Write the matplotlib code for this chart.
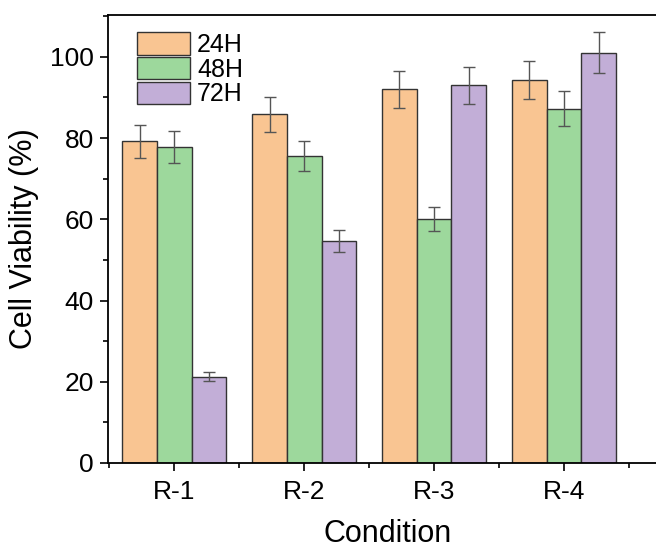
import matplotlib
matplotlib.use("Agg")
import matplotlib.pyplot as plt
import numpy as np
from matplotlib.ticker import MultipleLocator, FixedLocator

plt.rcParams['font.family'] = ['Liberation Sans', 'DejaVu Sans']

# data
conditions = ['R-1', 'R-2', 'R-3', 'R-4']
series = ['24H', '48H', '72H']
v24 = [79.2, 85.9, 92.0, 94.3]
v48 = [77.8, 75.5, 60.0, 87.2]
v72 = [21.2, 54.6, 93.0, 101.0]
e24 = [4.0, 4.3, 4.6, 4.7]
e48 = [4.0, 3.7, 3.0, 4.3]
e72 = [1.1, 2.7, 4.6, 5.0]

colors = ['#F9C592', '#9DD89C', '#C2AED7']

fig = plt.figure(figsize=(6.56, 5.5), dpi=100)
ax = fig.add_axes([108/656, 87/550, 560/656, 448/550])

x = np.arange(1, len(conditions) + 1)
w = 0.8 / 3
for i, (vals, errs, lab) in enumerate(zip([v24, v48, v72], [e24, e48, e72], series)):
    ax.bar(x + (i - 1) * w, vals, width=w, color=colors[i], edgecolor='#333333',
           linewidth=1.0, label=lab, zorder=2)
    ax.errorbar(x + (i - 1) * w, vals, yerr=errs, fmt='none', ecolor='#555555',
                elinewidth=1.0, capsize=4, capthick=1.0, zorder=3)

ax.set_xlim(0.49, 4.8)
ax.set_ylim(0, 110.3)
ax.set_xticks(x)
ax.set_xticklabels(conditions)
ax.xaxis.set_minor_locator(FixedLocator([0.5, 1.5, 2.5, 3.5, 4.5]))
ax.yaxis.set_major_locator(MultipleLocator(20))
ax.yaxis.set_minor_locator(MultipleLocator(10))
ax.tick_params(which='major', direction='out', length=6, width=1.2, labelsize=19, pad=4)
ax.tick_params(axis='x', which='major', pad=6)
ax.tick_params(which='minor', direction='out', length=3.5, width=1.2)
for s in ax.spines.values():
    s.set_linewidth(1.3)

ax.set_xlabel('Condition', fontsize=22, labelpad=11)
ax.set_ylabel('Cell Viability (%)', fontsize=22, labelpad=8)

ax.legend(loc='upper left', bbox_to_anchor=(0.025, 0.995), frameon=False, fontsize=18,
          handlelength=2.1, handleheight=1.0, labelspacing=0.0, handletextpad=0.3,
          borderaxespad=0.2)

fig.savefig('out.png', dpi=100)
